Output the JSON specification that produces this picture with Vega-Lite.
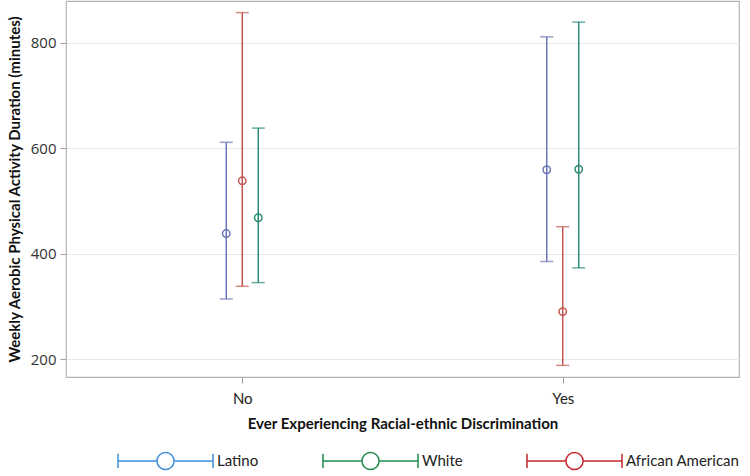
{
  "$schema": "https://vega.github.io/schema/vega-lite/v6.json",
  "width": 673,
  "height": 376,
  "padding": {"left": 7, "top": 1, "right": 10, "bottom": 2},
  "background": "white",
  "config": {
    "view": {"stroke": "#b4b4b4", "strokeWidth": 1.2},
    "axis": {
      "domain": false,
      "tickColor": "#a0a0a0",
      "tickSize": 6,
      "gridColor": "#e8e8e8",
      "titleFont": "Lato",
      "titleFontWeight": "bold",
      "titleFontSize": 15,
      "titleColor": "#111111"
    },
    "legend": {"labelFont": "Lato", "labelFontSize": 15, "labelColor": "#222222"}
  },
  "data": {
    "values": [
      {"group": "Latino", "disc": "No", "mean": 438, "lo": 314, "hi": 611},
      {"group": "African American", "disc": "No", "mean": 538, "lo": 338, "hi": 857},
      {"group": "White", "disc": "No", "mean": 468, "lo": 345, "hi": 638},
      {"group": "Latino", "disc": "Yes", "mean": 559, "lo": 385, "hi": 811},
      {"group": "African American", "disc": "Yes", "mean": 290, "lo": 188, "hi": 451},
      {"group": "White", "disc": "Yes", "mean": 560, "lo": 373, "hi": 839}
    ]
  },
  "encoding": {
    "x": {
      "field": "disc",
      "type": "nominal",
      "scale": {"type": "point", "padding": 0.55},
      "axis": {
        "title": "Ever Experiencing Racial-ethnic Discrimination",
        "labelAngle": 0,
        "labelFont": "Lato",
        "labelFontSize": 15,
        "labelColor": "#222222",
        "labelPadding": 8,
        "titlePadding": 10,
        "grid": false
      }
    },
    "xOffset": {
      "field": "group",
      "type": "nominal",
      "scale": {"type": "point", "domain": ["Latino", "African American", "White"], "range": [-16, 16], "padding": 0}
    }
  },
  "layer": [
    {
      "mark": {"type": "rule", "strokeWidth": 1.5},
      "encoding": {
        "y": {
          "field": "lo",
          "type": "quantitative",
          "scale": {"domain": [166, 879], "nice": false, "zero": false},
          "axis": {
            "title": "Weekly Aerobic Physical Activity Duration (minutes)",
            "values": [200, 400, 600, 800],
            "labelFont": "Open Sans",
            "labelFontSize": 15,
            "labelColor": "#333333",
            "labelPadding": 4,
            "titlePadding": 8
          }
        },
        "y2": {"field": "hi"},
        "color": {
          "field": "group",
          "type": "nominal",
          "scale": {"domain": ["Latino", "African American", "White"], "range": ["#6a76b8", "#c2554f", "#2b8a78"]},
          "legend": null
        }
      }
    },
    {
      "mark": {"type": "tick", "orient": "horizontal", "size": 13, "thickness": 1.5},
      "encoding": {
        "y": {"field": "lo", "type": "quantitative"},
        "color": {"field": "group", "type": "nominal", "legend": null}
      }
    },
    {
      "mark": {"type": "tick", "orient": "horizontal", "size": 13, "thickness": 1.5},
      "encoding": {
        "y": {"field": "hi", "type": "quantitative"},
        "color": {"field": "group", "type": "nominal", "legend": null}
      }
    },
    {
      "mark": {"type": "point", "filled": false, "size": 55, "strokeWidth": 1.5, "opacity": 1},
      "encoding": {
        "y": {"field": "mean", "type": "quantitative"},
        "color": {"field": "group", "type": "nominal", "legend": null}
      }
    },
    {
      "mark": {"type": "point", "filled": false, "size": 1, "strokeWidth": 0},
      "encoding": {
        "y": {"field": "mean", "type": "quantitative"},
        "stroke": {
          "field": "group",
          "type": "nominal",
          "scale": {"domain": ["Latino", "White", "African American"], "range": ["#3f8fdb", "#1f8c4c", "#c2272d"]},
          "legend": {
            "title": null,
            "orient": "bottom",
            "direction": "horizontal",
            "symbolType": "M4.37,0H8.47M10.27,0H14.37M4.37,-0.75V0.75M14.37,-0.75V0.75M10.27,0A0.9,0.9 0 1,1 8.47,0A0.9,0.9 0 1,1 10.27,0",
            "symbolSize": 361,
            "symbolStrokeWidth": 1.5,
            "symbolFillColor": "transparent",
            "symbolOpacity": 1,
            "labelOffset": 130,
            "columnPadding": 12,
            "offset": 19
          }
        }
      }
    }
  ]
}
